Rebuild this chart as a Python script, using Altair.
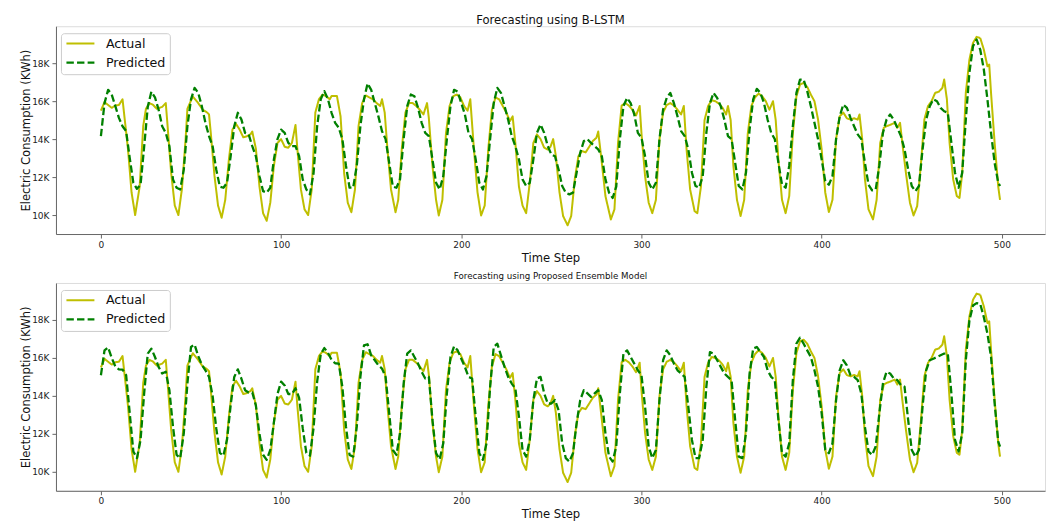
import altair as alt
import pandas as pd

# ---------------- data (values in thousand kWh) ----------------
actual_steps = [
    0, 2, 4, 6, 8, 10, 12, 15, 17, 19, 21.5, 23.5, 25, 27, 29, 31, 34, 36, 37, 39,
    41, 43, 45, 47, 48, 51, 54, 56.5, 59, 60, 61, 63, 65, 67, 69, 71, 73, 75, 77, 79,
    81, 83, 84, 86, 88, 90, 92, 94, 96, 98, 100, 102, 104, 106, 108, 109, 111, 113, 115, 117,
    119, 121, 123, 125, 127, 128, 131, 133, 135, 137, 139, 141, 143, 145, 147, 149, 151, 153, 155, 156,
    157.5, 159, 161, 163.5, 165, 167, 169, 171, 173, 175, 177, 179, 181, 182, 184, 186, 187.5, 189.5, 191.5, 193.5,
    195.5, 197.5, 199.5, 201.5, 203.5, 205, 207, 209, 211, 213, 215, 217, 219, 221, 223, 225, 227, 228.5, 230, 232,
    234, 236, 238, 240, 242, 244, 246, 248, 249.5, 251, 252.5, 254.5, 256.5, 259, 261, 263, 265, 267, 269, 271,
    273, 275, 276, 278, 280, 283, 285, 287, 289, 291, 293, 295, 297, 299, 300, 302, 304, 306, 308, 310,
    312, 314, 316, 318, 320, 322, 323.5, 325, 327, 329.5, 331, 333, 335, 337, 339, 341, 343, 345, 347, 348,
    349.5, 351, 353, 355, 357, 359, 361, 363, 365, 367, 369, 371, 373, 374.5, 376, 378, 380, 382, 384, 386,
    388, 390, 392, 394, 396, 398, 400, 402, 404, 406, 408, 410, 412, 414, 416, 418, 420, 421, 422.5, 424,
    426, 428.5, 430.5, 432.5, 434.5, 436.5, 438.5, 440.5, 442, 443.5, 445, 447, 449, 451, 453, 455, 457, 459, 461, 463,
    465, 467, 468, 469.5, 471, 473, 475, 476.5, 478, 480, 482, 484, 486, 488, 490, 492, 493, 494, 496, 498,
    499,
]
actual_k = [
    15.5, 15.95, 15.8, 15.65, 15.77, 15.8, 16.1, 13.5, 11.2, 10.0, 11.5, 14.7, 15.6, 15.9, 15.8, 15.6, 15.7, 15.9, 14.7, 12.2,
    10.5, 10.0, 11.4, 14.0, 15.6, 16.25, 15.9, 15.55, 15.4, 15.3, 14.3, 12.1, 10.5, 9.86, 10.8, 12.9, 14.5, 14.8, 14.5, 14.1,
    14.15, 14.25, 14.4, 13.5, 11.5, 10.1, 9.7, 10.65, 12.6, 13.8, 14.0, 13.6, 13.55, 13.8, 14.75, 13.5, 11.35, 10.3, 10.0, 11.35,
    15.4, 16.1, 16.35, 16.26, 16.1, 16.27, 16.27, 15.2, 12.2, 10.65, 10.15, 11.35, 14.7, 15.9, 16.3, 16.2, 16.1, 15.9, 15.75, 16.1,
    15.4, 13.5, 11.35, 10.15, 10.8, 13.5, 15.4, 15.9, 15.9, 15.75, 15.55, 15.3, 15.9, 15.1, 12.6, 10.8, 9.98, 10.8, 14.3, 15.75,
    16.26, 16.35, 16.2, 15.75, 15.5, 16.1, 13.5, 11.2, 9.98, 10.5, 13.5, 15.55, 16.2, 16.1, 15.75, 15.4, 14.95, 15.2, 13.8, 11.5,
    10.5, 10.1, 11.7, 13.8, 14.25, 14.0, 13.55, 13.45, 13.6, 14.0, 13.1, 11.2, 9.95, 9.46, 9.95, 11.9, 13.1, 13.37, 13.3, 13.6,
    13.9, 14.07, 14.4, 12.75, 11.0, 9.77, 10.3, 13.8, 15.77, 15.9, 15.77, 15.55, 15.25, 15.75, 14.3, 12.05, 10.65, 10.1, 10.8, 14.0,
    15.4, 15.8, 15.9, 15.77, 15.55, 15.3, 15.75, 13.5, 11.35, 10.2, 10.1, 11.5, 15.0, 15.75, 16.05, 16.0, 15.87, 15.65, 15.3, 15.75,
    15.0, 12.6, 10.8, 9.95, 10.8, 14.3, 15.75, 16.2, 16.4, 16.26, 16.0, 15.55, 16.0, 15.0, 12.9, 10.8, 10.1, 11.0, 14.3, 16.26,
    16.88, 16.96, 16.75, 16.35, 16.0, 15.03, 13.46, 11.18, 10.16, 10.8, 14.0, 15.2, 15.4, 15.1, 15.03, 15.1, 15.03, 15.3, 14.0, 11.9,
    10.3, 9.77, 10.8, 13.8, 14.6, 14.7, 14.77, 14.86, 14.6, 14.86, 13.6, 12.05, 10.65, 9.98, 10.47, 12.6, 15.03, 15.74, 16.0, 16.44,
    16.5, 16.7, 17.14, 16.1, 13.8, 11.88, 11.0, 10.9, 12.2, 16.44, 18.19, 19.07, 19.39, 19.33, 18.72, 17.84, 17.93, 16.44, 13.8, 11.5,
    10.8,
]

pred_steps = list(range(0, 499, 2)) + [499]

blstm_k = [
    14.16, 15.9, 16.6, 16.35, 15.74, 15.12, 14.68, 14.42, 13.0, 11.7,
    11.38, 11.6, 13.6, 15.7, 16.5, 16.2, 15.56, 14.68, 14.33, 13.63,
    11.88, 11.44, 11.35, 12.4, 14.68, 16.1, 16.7, 16.44, 15.74, 14.86,
    14.16, 13.63, 12.4, 11.5, 11.44, 11.7, 13.1, 14.68, 15.39, 15.03,
    14.33, 14.25, 13.63, 13.1, 12.05, 11.26, 11.18, 11.44, 12.93, 14.0,
    14.5, 14.33, 13.8, 13.63, 13.63, 13.1, 11.88, 11.35, 11.09, 12.2,
    14.68, 16.1, 16.53, 16.1, 15.39, 14.86, 14.6, 14.0, 12.6, 11.44,
    11.44, 12.6, 14.68, 16.1, 16.93, 16.6, 15.9, 15.2, 14.42, 14.0,
    12.75, 11.5, 11.44, 11.88, 14.0, 15.74, 16.35, 16.26, 15.65, 14.86,
    14.33, 14.16, 12.93, 11.7, 11.35, 12.05, 14.0, 15.74, 16.6, 16.5,
    15.9, 15.3, 14.33, 14.0, 12.93, 11.7, 11.35, 12.05, 14.0, 15.9,
    16.7, 16.44, 15.74, 15.03, 14.16, 13.63, 12.93, 11.88, 11.53, 11.7,
    12.93, 14.33, 14.77, 14.33, 13.63, 13.19, 13.1, 12.4, 11.53, 11.18,
    11.09, 11.18, 12.23, 13.28, 13.9, 14.0, 13.8, 13.63, 13.46, 13.1,
    11.88, 11.18, 10.9, 11.5, 14.0, 15.74, 16.17, 15.9, 15.3, 14.33,
    14.07, 13.1, 11.7, 11.35, 11.7, 14.0, 15.56, 16.17, 16.44, 15.9,
    15.2, 14.42, 14.16, 13.46, 12.23, 11.53, 11.44, 12.05, 14.33, 15.9,
    16.44, 16.17, 15.74, 15.03, 14.16, 14.0, 12.75, 11.53, 11.35, 12.23,
    14.5, 16.1, 16.65, 16.44, 15.9, 15.03, 14.33, 14.0, 12.75, 11.6,
    11.44, 12.6, 14.68, 16.44, 17.14, 17.14, 16.53, 15.74, 14.86, 14.0,
    12.93, 11.79, 11.6, 12.05, 14.0, 15.2, 15.82, 15.65, 15.12, 14.68,
    14.25, 14.0, 12.75, 11.6, 11.3, 11.35, 12.6, 14.33, 15.03, 15.3,
    15.03, 14.6, 14.16, 13.46, 12.4, 11.53, 11.26, 11.53, 13.46, 15.03,
    15.74, 16.1, 16.0, 15.65, 15.47, 15.39, 13.8, 12.23, 11.44, 12.23,
    15.03, 17.5, 18.9, 19.25, 18.72, 17.67, 16.1, 14.33, 12.75, 11.7,
    11.53,
]

ensemble_k = [
    15.09, 16.4, 16.55, 16.0, 15.55, 15.4, 15.38, 15.1, 13.08, 11.07,
    10.72, 11.68, 14.13, 16.23, 16.49, 16.05, 15.53, 15.18, 15.27, 14.3,
    12.38, 10.89, 10.72, 12.03, 14.65, 16.58, 16.7, 16.1, 15.65, 15.35,
    15.0, 14.0, 12.3, 11.0, 10.85, 11.7, 13.5, 15.0, 15.4, 14.9,
    14.3, 14.18, 14.18, 13.5, 12.0, 10.9, 10.63, 11.15, 12.6, 14.1,
    14.75, 14.55, 14.1, 14.1, 14.4, 13.9, 12.3, 11.0, 10.85, 12.3,
    14.75, 16.2, 16.52, 16.27, 15.9, 15.72, 15.7, 14.48, 12.38, 10.89,
    10.8, 12.38, 15.0, 16.66, 16.72, 16.14, 15.88, 15.61, 15.44, 15.0,
    13.08, 11.15, 10.89, 12.03, 14.65, 16.23, 16.4, 16.05, 15.7, 15.27,
    14.92, 15.0, 12.73, 10.98, 10.66, 11.5, 14.13, 16.05, 16.61, 16.4,
    15.96, 15.53, 15.0, 14.92, 12.9, 10.98, 10.63, 11.5, 14.48, 16.58,
    16.75, 16.14, 15.53, 15.0, 14.65, 14.39, 12.9, 11.15, 10.8, 11.68,
    13.78, 14.92, 15.0, 14.13, 13.6, 13.6, 13.78, 13.25, 11.5, 10.72,
    10.54, 10.98, 12.55, 13.78, 14.3, 14.13, 13.95, 14.13, 14.3, 13.78,
    12.03, 10.8, 10.54, 11.33, 14.13, 16.23, 16.4, 16.05, 15.7, 15.35,
    15.09, 13.43, 11.33, 10.72, 11.15, 13.78, 15.88, 16.4, 16.14, 15.7,
    15.35, 15.18, 15.0, 13.43, 11.68, 10.72, 10.72, 11.68, 14.48, 16.31,
    16.23, 15.88, 15.53, 15.18, 15.0, 14.83, 12.73, 10.8, 10.72, 12.03,
    15.18, 16.49, 16.58, 16.31, 16.05, 15.35, 15.0, 14.83, 12.73, 10.98,
    10.8, 11.5, 14.83, 16.75, 17.07, 16.75, 16.4, 16.05, 15.35, 14.48,
    13.08, 11.15, 10.98, 11.5, 13.78, 15.35, 15.88, 15.61, 15.09, 15.0,
    14.83, 14.13, 12.38, 11.07, 10.89, 11.33, 13.08, 14.65, 15.27, 15.18,
    14.92, 14.83, 14.57, 14.48, 12.73, 11.15, 10.8, 11.15, 13.43, 15.35,
    15.88, 15.96, 16.05, 16.14, 16.23, 16.23, 14.13, 11.68, 11.07, 12.03,
    15.88, 17.98, 18.76, 18.89, 18.85, 18.15, 17.28, 16.05, 13.6, 11.59,
    11.33,
]

series_names = ["Actual", "Predicted"]
series_colors = ["#bfbf00", "#008000"]
x_ticks = [0, 100, 200, 300, 400, 500]
y_ticks = [10000, 12000, 14000, 16000, 18000]
titles = ["Forecasting using B-LSTM", "Forecasting using Proposed Ensemble Model"]

FONT = "DejaVu Sans"


def panel_frame(pred_k):
    a = pd.DataFrame({"step": actual_steps, "kwh": [v * 1000 for v in actual_k], "series": "Actual"})
    p = pd.DataFrame({"step": pred_steps, "kwh": [v * 1000 for v in pred_k], "series": "Predicted"})
    return pd.concat([a, p], ignore_index=True)


def legend_params():
    return alt.Legend(title=None, orient="none", legendX=5, legendY=7,
                      symbolType="M-2.8,0H2.8", symbolSize=100,
                      symbolStrokeWidth=2.2, symbolOffset=9,
                      labelOffset=19, labelFontSize=12.7, labelFont=FONT,
                      labelColor="#111", rowPadding=5, padding=4,
                      fillColor="white", strokeColor="#cccccc",
                      cornerRadius=3)


def panel(pred_k, title, title_size, title_offset):
    df = panel_frame(pred_k)
    return alt.Chart(df).mark_line(strokeJoin="round", strokeCap="butt").encode(
        x=alt.X("step:Q",
                scale=alt.Scale(domain=[-24.95, 523.95], nice=False, zero=False),
                axis=alt.Axis(values=x_ticks, title="Time Step", grid=False,
                              labelFontSize=9, labelFont=FONT, labelColor="#222",
                              titleFontSize=11.6, titleFont=FONT, titleFontWeight="normal",
                              titleColor="#111", titlePadding=3, labelPadding=2,
                              tickSize=4, tickColor="#666", domainColor="#666",
                              labelFlush=False)),
        y=alt.Y("kwh:Q",
                scale=alt.Scale(domain=[9000, 19950], nice=False, zero=False),
                axis=alt.Axis(values=y_ticks, labelExpr="datum.value / 1000 + 'K'",
                              title="Electric Consumption (KWh)", grid=False,
                              labelFontSize=9, labelFont=FONT, labelColor="#222",
                              titleFontSize=11.6, titleFont=FONT, titleFontWeight="normal",
                              titleColor="#111", titlePadding=0, labelPadding=3,
                              tickSize=4, tickColor="#666", domainColor="#666")),
        color=alt.Color("series:N",
                        scale=alt.Scale(domain=series_names, range=series_colors),
                        legend=legend_params()),
        strokeDash=alt.StrokeDash("series:N",
                                  scale=alt.Scale(domain=series_names, range=[[1, 0], [7.4, 3.2]]),
                                  legend=legend_params()),
        strokeWidth=alt.StrokeWidth("series:N",
                                    scale=alt.Scale(domain=series_names, range=[2.0, 2.3]),
                                    legend=None),
        order=alt.Order("step:Q"),
    ).properties(
        width=990, height=208,
        title=alt.TitleParams(title, fontSize=title_size, font=FONT, fontWeight="normal",
                              color="#111", anchor="middle", offset=title_offset),
    )


top = panel(blstm_k, titles[0], 11.6, 0)
bottom = panel(ensemble_k, titles[1], 8.7, 2)

chart = alt.vconcat(top, bottom, spacing=6).resolve_scale(
    color="independent", strokeDash="independent", strokeWidth="independent"
).resolve_legend(color="independent", strokeDash="independent").properties(
    padding={"left": 12, "top": 5, "right": 0, "bottom": 0}
).configure_view(stroke="#666", strokeWidth=1).configure(background="white")

chart.save("out.html", embed_options={"renderer": "svg", "actions": False})
